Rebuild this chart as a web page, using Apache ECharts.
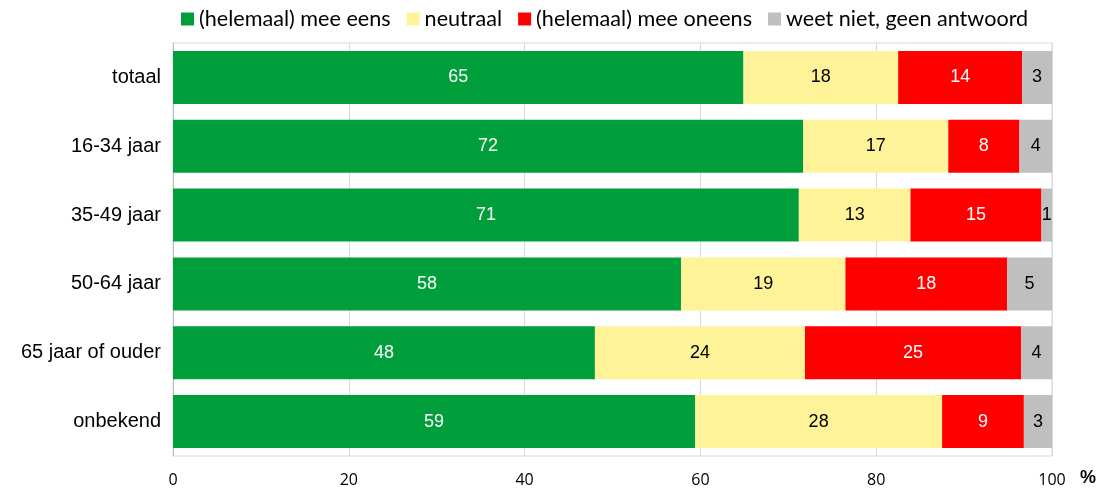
<!DOCTYPE html>
<html>
<head>
<meta charset="utf-8">
<script src="https://cdn.jsdelivr.net/npm/echarts@6/dist/echarts.min.js"></script>
<style>
  html, body { margin: 0; padding: 0; background: #fff; }
  #chart { width: 1102px; height: 488px; }
</style>
</head>
<body>
<div id="chart"></div>
<script>
// categorieen (van boven naar beneden)
var categories = ['totaal', '16-34 jaar', '35-49 jaar', '50-64 jaar', '65 jaar of ouder', 'onbekend'];
var seriesNames = ['(helemaal) mee eens', 'neutraal', '(helemaal) mee oneens', 'weet niet, geen antwoord'];

// percentages
var meeEens   = [64.9, 71.7, 71.2, 57.8, 48.0, 59.4];
var neutraal  = [17.6, 16.5, 12.7, 18.7, 23.9, 28.1];
var meeOneens = [14.1, 8.1, 14.9, 18.4, 24.6, 9.3];
var weetNiet  = [3.4, 3.7, 1.2, 5.1, 3.5, 3.2];

var xTicks = [0, 20, 40, 60, 80, 100];

var colors = ['#009f3c', '#fff399', '#ff0000', '#bfbfbf'];
var labelColors = ['#ffffff', '#000000', '#ffffff', '#000000'];

var chart = echarts.init(document.getElementById('chart'));

var allData = [meeEens, neutraal, meeOneens, weetNiet];
var series = [];
for (var i = 0; i < seriesNames.length; i++) {
    series.push({
        name: seriesNames[i],
        type: 'bar',
        stack: 'totaal',
        barWidth: '77%',
        data: allData[i],
        itemStyle: { color: colors[i] },
        label: {
            show: true,
            position: 'inside',
            color: labelColors[i],
            fontFamily: 'Liberation Sans',
            fontSize: 18,
            formatter: function (p) { return Math.round(p.value); }
        }
    });
}

var option = {
    animation: false,
    legend: {
        top: 3,
        left: 176,
        itemWidth: 13,
        itemHeight: 13,
        itemGap: 16,
        icon: 'rect',
        textStyle: { fontFamily: 'Lato', fontSize: 21.6, color: '#000' },
        data: seriesNames
    },
    grid: {
        left: 173,
        right: 50,
        top: 43,
        bottom: 32,
        show: true,
        borderColor: '#d9d9d9',
        borderWidth: 1
    },
    xAxis: {
        type: 'value',
        min: 0,
        max: 100,
        interval: 20,
        name: '%',
        nameLocation: 'end',
        nameGap: 28,
        nameTextStyle: { fontWeight: 'bold', fontSize: 18, color: '#000', verticalAlign: 'top', padding: [13, 0, 0, 0] },
        axisLine: { show: false },
        axisTick: { show: false },
        axisLabel: {
            margin: 16,
            fontFamily: 'Open Sans',
            fontSize: 16,
            color: '#000',
            formatter: function (v) { return xTicks.indexOf(v) >= 0 ? v : ''; }
        },
        splitLine: { show: true, lineStyle: { color: '#d9d9d9', width: 1 } }
    },
    yAxis: {
        type: 'category',
        inverse: true,
        data: categories,
        axisLine: { show: true, lineStyle: { color: '#bfbfbf' } },
        axisTick: { show: false },
        axisLabel: {
            margin: 12,
            fontFamily: 'Liberation Sans',
            fontSize: 20,
            color: '#000'
        }
    },
    series: series
};

chart.setOption(option);
</script>
</body>
</html>
